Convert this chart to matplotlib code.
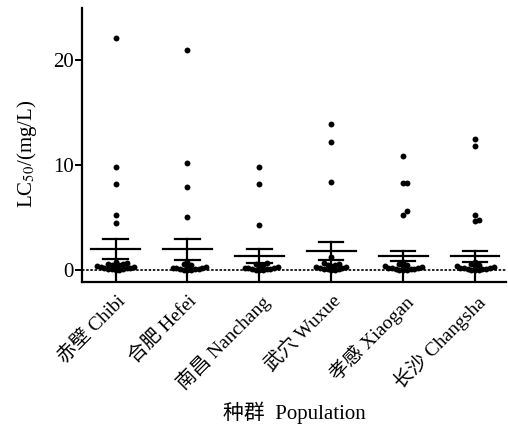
import numpy as np
import matplotlib
matplotlib.use("Agg")
from matplotlib import pyplot as plt

plt.rcParams['font.family'] = ['Liberation Serif', 'Noto Sans CJK SC', 'DejaVu Sans']
plt.rcParams['mathtext.fontset'] = 'stix'

# populations
labels = ['赤壁 Chibi', '合肥 Hefei', '南昌 Nanchang', '武穴 Wuxue', '孝感 Xiaogan', '长沙 Changsha']

# LC50 of each sample (mg/L)
chibi = [22.1, 9.8, 8.2, 5.3, 4.5, 0.8, 0.7, 0.6, 0.55, 0.5, 0.45, 0.4, 0.35, 0.3, 0.3,
         0.25, 0.2, 0.2, 0.15, 0.1, 0.1, 0.05, 0.05]
hefei = [21.0, 10.2, 7.9, 5.1, 0.75, 0.6, 0.5, 0.4, 0.3, 0.25, 0.2, 0.2, 0.15, 0.1, 0.1,
         0.05, 0.05, 0.05]
nanchang = [9.8, 8.2, 4.3, 0.7, 0.6, 0.5, 0.4, 0.3, 0.25, 0.2, 0.2, 0.15, 0.1, 0.1,
            0.05, 0.05, 0.05]
wuxue = [13.9, 12.2, 8.4, 1.3, 0.7, 0.6, 0.5, 0.45, 0.4, 0.3, 0.3, 0.25, 0.2, 0.15, 0.1,
         0.1, 0.05, 0.05]
xiaogan = [10.9, 8.3, 8.3, 5.6, 5.3, 0.8, 0.6, 0.5, 0.4, 0.35, 0.3, 0.25, 0.2, 0.2,
           0.15, 0.1, 0.1, 0.05, 0.05, 0.05]
changsha = [12.5, 11.8, 5.3, 4.8, 4.7, 0.8, 0.6, 0.5, 0.4, 0.35, 0.3, 0.25, 0.2, 0.2,
            0.15, 0.1, 0.1, 0.05, 0.05, 0.05]
groups = [chibi, hefei, nanchang, wuxue, xiaogan, changsha]

# mean and SEM lines as drawn
means = [2.0, 2.0, 1.33, 1.8, 1.33, 1.33]
sem_hi = [2.95, 2.95, 2.0, 2.64, 1.84, 1.84]
sem_lo = [1.08, 0.95, 0.67, 0.95, 0.83, 0.8]

fig = plt.figure(figsize=(5.08, 4.25), dpi=100)
ax = fig.add_axes([0.161, 0.336, 0.835, 0.645])
xlim = (-0.47, 5.43)
ylim = (-1.15, 25)
ax.set_xlim(*xlim)
ax.set_ylim(*ylim)

# pixels per data unit, used to lay out the swarm
w_px = 0.835 * 508
h_px = 0.645 * 425
sx = w_px / (xlim[1] - xlim[0])
sy = h_px / (ylim[1] - ylim[0])
gap = 3.7  # px, dots overlap a lot like in the original

def swarm(vals):
    placed = []
    offs = []
    for v in vals:
        k = 0
        while True:
            step = (k + 1) // 2 * (1 if k % 2 else -1)
            cx = step * gap
            ok = True
            for px, py in placed:
                if (px - cx) ** 2 + (py - v * sy) ** 2 < (gap * 0.99) ** 2:
                    ok = False
                    break
            if ok:
                break
            k += 1
        placed.append((cx, v * sy))
        offs.append(cx / sx)
    return offs

ax.axhline(0, color='black', ls=(0, (1.5, 1.0)), lw=1.2, zorder=1)

for i, vals in enumerate(groups):
    vs = sorted(vals)
    xo = swarm(vs)
    ax.scatter(np.array(xo) + i, vs, s=18, color='black', zorder=3, linewidths=0)
    ax.plot([i - 0.34, i + 0.34], [means[i], means[i]], color='black', lw=1.6, zorder=4)
    ax.plot([i - 0.17, i + 0.17], [sem_hi[i], sem_hi[i]], color='black', lw=1.6, zorder=4)
    ax.plot([i - 0.17, i + 0.17], [sem_lo[i], sem_lo[i]], color='black', lw=1.6, zorder=4)
    ax.plot([i, i], [ylim[0], sem_hi[i]], color='black', lw=1.6, zorder=4)

for s in ['top', 'right']:
    ax.spines[s].set_visible(False)
for s in ['left', 'bottom']:
    ax.spines[s].set_linewidth(1.6)

ax.set_yticks([0, 10, 20])
ax.tick_params(axis='y', direction='out', length=5, width=1.4, labelsize=15, pad=1)
ax.set_xticks(range(len(labels)))
ax.set_xticklabels(labels, rotation=45, ha='right', rotation_mode='anchor')
ax.tick_params(axis='x', direction='out', length=0, labelsize=14, pad=7)

ax.set_ylabel('LC$_{50}$/(mg/L)', fontsize=15)
ax.yaxis.set_label_coords(-0.10, 0.47)
fig.text(0.58, 0.028, '种群  Population', fontsize=15, ha='center', va='center')

fig.savefig('out.png', dpi=100)
